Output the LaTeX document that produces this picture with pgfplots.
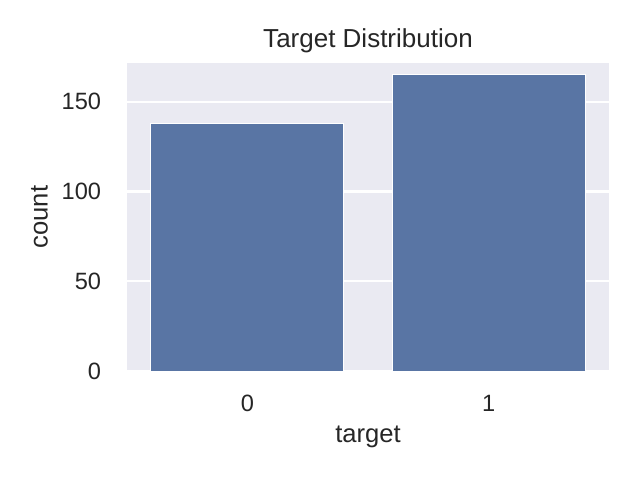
\documentclass[border=0pt]{standalone}
\usepackage{fontspec}
\setmainfont{Liberation Sans}
\usepackage{pgfplots}
\pgfplotsset{compat=1.18}

\definecolor{sbbg}{HTML}{EAEAF2}
\definecolor{sbblue}{HTML}{5975A4}
\definecolor{sbtext}{HTML}{262626}

\begin{document}
\begin{tikzpicture}
% page frame, 640x480 px at 0.5pt per px
\path[use as bounding box] (-63.35pt,-54.5pt) rectangle (256.65pt,185.5pt);
\begin{axis}[
    at={(0,0)}, anchor=south west,
    scale only axis,
    width=241.3pt, height=153.85pt,
    xmin=-0.5, xmax=1.5,
    ymin=0, ymax=171.4,
    xtick={0,1},
    xticklabels={0,1},
    ytick={0,50,100,150},
    major tick length=0pt,
    axis line style={draw=none},
    axis background/.style={fill=sbbg},
    ymajorgrids,
    major grid style={white, line width=1.1pt},
    /pgf/number format/assume math mode=true,
    ticklabel style={font=\fontsize{11.8}{13}\selectfont, text=sbtext},
    yticklabel style={anchor=east, inner sep=0pt, xshift=-12.6pt},
    xticklabel style={anchor=base, inner sep=0pt, yshift=-20.2pt},
    title={Target Distribution},
    title style={at={([yshift=2pt]axis description cs:0.5,1)}, anchor=base,
        font=\fontsize{13}{15}\selectfont, text=sbtext},
    xlabel={target},
    xlabel style={at={([yshift=-35.5pt]axis description cs:0.5,0)}, anchor=base,
        font=\fontsize{12.8}{15}\selectfont, text=sbtext},
    ylabel={count},
    ylabel style={at={([xshift=-39.5pt]axis description cs:0,0.5)}, anchor=base,
        font=\fontsize{12.8}{15}\selectfont, text=sbtext},
    ybar,
    bar width=0.8,
]
\addplot[fill=sbblue, draw=white, line width=0.5pt] coordinates {(0,138) (1,165)};
\end{axis}
\end{tikzpicture}
\end{document}
